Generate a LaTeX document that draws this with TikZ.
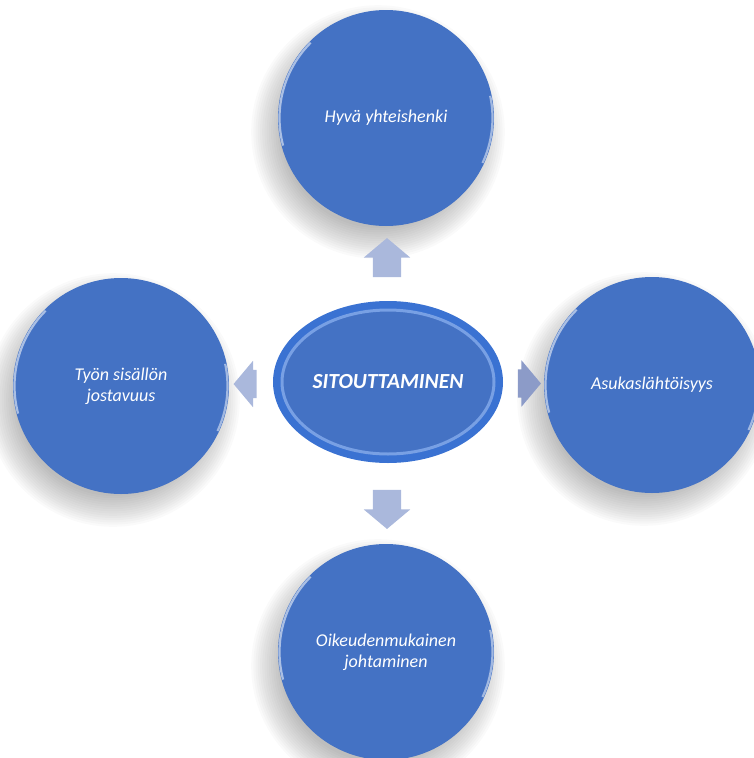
\documentclass[tikz,border=0pt]{standalone}
\usepackage{fontspec}
\setmainfont{Carlito}
\usetikzlibrary{calc,shapes.geometric,shapes.arrows,backgrounds}
\definecolor{discblue}{RGB}{68,114,196}
\definecolor{ringblue}{RGB}{58,114,210}
\definecolor{rimblue}{RGB}{120,160,228}
\definecolor{arrowblue}{RGB}{170,184,220}
\definecolor{arrowdark}{RGB}{140,155,200}

\tikzset{
  disc/.style={circle, minimum size=216pt, inner sep=0pt, fill=discblue,
    text=white, align=center, font=\fontsize{18}{21}\selectfont\itshape,
    path picture={
      \draw[white, opacity=.55, line width=2.2pt]
        ([shift={(195:106.5pt)}]path picture bounding box.center)
        arc[start angle=195, end angle=135, radius=106.5pt];
      \draw[white, opacity=.5, line width=2.2pt]
        ([shift={(-25:106.5pt)}]path picture bounding box.center)
        arc[start angle=-25, end angle=12, radius=106.5pt];
    }},
  hubdisc/.style={ellipse, minimum width=230pt, minimum height=162pt,
    inner sep=0pt, fill=ringblue, text=white,
    font=\fontsize{21.5}{25}\selectfont\bfseries\itshape,
    path picture={
      \draw[rimblue, line width=3pt, fill=discblue]
        (path picture bounding box.center) ellipse[x radius=106pt, y radius=72pt];
    }},
  blockarrow/.style={single arrow, fill=arrowblue, inner xsep=0pt,
    inner ysep=14pt, single arrow head extend=9pt,
    single arrow tip angle=100}
}

\begin{document}
\begin{tikzpicture}[x=1pt, y=-1pt]
    \useasboundingbox (0,0) rectangle (753,758);

    \node[hubdisc] (hub) at (388,382) {SITOUTTAMINEN};
    \node[disc] (top) at (386,118) {Hyvä yhteishenki};
    \node[disc] (left) at (121,386) {Työn sisällön\\jostavuus};
    \node[disc] (right) at (652,385) {Asukaslähtöisyys};
    \node[disc] (bottom) at (386,652) {Oikeudenmukainen\\johtaminen};

    \node[blockarrow, minimum height=39pt, rotate=90]
        (uparrow) at ($(hub.north)!0.5!(top.south)$) {};
    \node[blockarrow, minimum height=39pt, rotate=270]
        (downarrow) at ($(hub.south)!0.5!(bottom.north)$) {};
    \node[blockarrow, minimum height=23pt, rotate=180]
        (leftarrow) at ($(hub.west)!0.5!(left.east)$) {};
    \node[blockarrow, minimum height=23pt, fill=arrowdark]
        (rightarrow) at ($(hub.east)!0.5!(right.west)$) {};

    \begin{scope}[on background layer]
        \foreach \n in {top,left,right,bottom}
            \foreach \k in {0,...,14}
                \fill[black, opacity=.02] ($(\n.center)+(-8,14)$)
                    circle[radius=96pt+\k*2.2pt];
    \end{scope}
\end{tikzpicture}
\end{document}
